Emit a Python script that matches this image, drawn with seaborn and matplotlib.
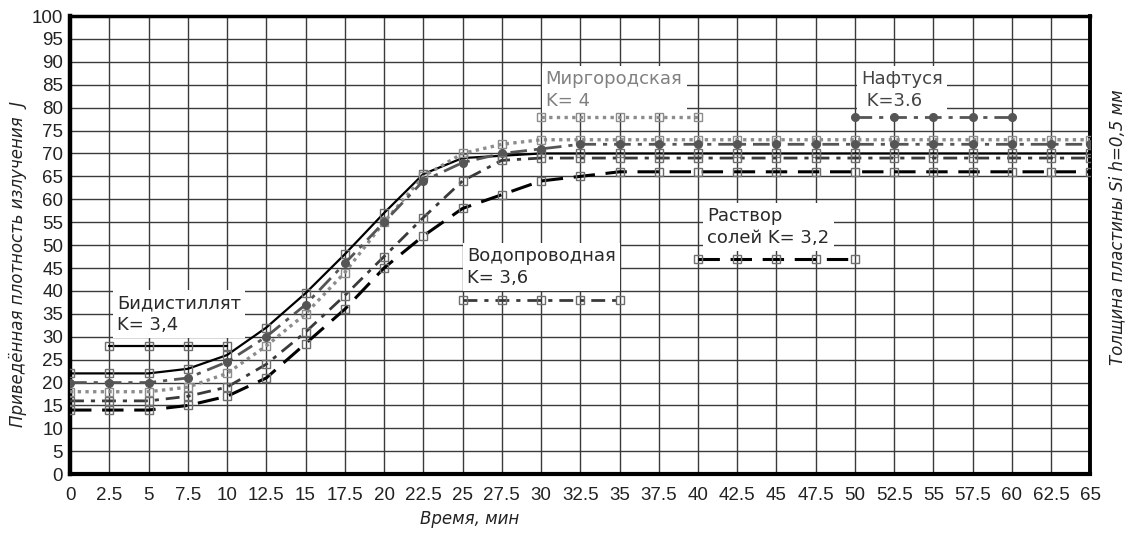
import numpy as np
import pandas as pd
import matplotlib
matplotlib.use("Agg")
import matplotlib.pyplot as plt
import seaborn as sns

# ---- data -------------------------------------------------------------
time_min = [0, 2.5, 5, 7.5, 10, 12.5, 15, 17.5, 20, 22.5, 25, 27.5, 30, 32.5,
            35, 37.5, 40, 42.5, 45, 47.5, 50, 52.5, 55, 57.5, 60, 62.5, 65]

bidistillat = [22, 22, 22, 23, 26, 32, 39.5, 48, 57, 65.5, 69, 69.5, 70, 70,
               70, 70, 70, 70, 70, 70, 70, 70, 70, 70, 70, 70, 70]
mirgorodskaya = [18, 18, 18, 19, 22, 28, 35, 44, 55, 65, 70, 72, 73, 73,
                 73, 73, 73, 73, 73, 73, 73, 73, 73, 73, 73, 73, 73]
naftusya = [20, 20, 20, 21, 24.5, 30, 37, 46, 55, 64, 68, 70, 71, 72,
            72, 72, 72, 72, 72, 72, 72, 72, 72, 72, 72, 72, 72]
vodoprovodnaya = [16, 16, 16, 17, 19, 24, 31, 39, 47.5, 56, 64, 68.5, 69, 69,
                  69, 69, 69, 69, 69, 69, 69, 69, 69, 69, 69, 69, 69]
rastvor = [14, 14, 14, 15, 17, 21, 28.5, 36, 45, 52, 58, 61, 64, 65,
           66, 66, 66, 66, 66, 66, 66, 66, 66, 66, 66, 66, 66]

# legend-like sample segments drawn inside the plot
bid_key_x = [2.5, 5, 7.5, 10];            bid_key_y = [28, 28, 28, 28]
mir_key_x = [30, 32.5, 35, 37.5, 40];     mir_key_y = [78, 78, 78, 78, 78]
naf_key_x = [50, 52.5, 55, 57.5, 60];     naf_key_y = [78, 78, 78, 78, 78]
vod_key_x = [25, 27.5, 30, 32.5, 35];     vod_key_y = [38, 38, 38, 38, 38]
ras_key_x = [40, 42.5, 45, 47.5, 50];     ras_key_y = [47, 47, 47, 47, 47]

labels = {
    "bid": "Бидистиллят\nK= 3,4",
    "mir": "Миргородская\nK= 4",
    "naf": "Нафтуся\n K=3.6",
    "vod": "Водопроводная\nK= 3,6",
    "ras": "Раствор\nсолей K= 3,2",
}

x_ticks = [0, 2.5, 5, 7.5, 10, 12.5, 15, 17.5, 20, 22.5, 25, 27.5, 30, 32.5,
           35, 37.5, 40, 42.5, 45, 47.5, 50, 52.5, 55, 57.5, 60, 62.5, 65]
y_ticks = list(range(0, 101, 5))

xlabel = "Время, мин"
ylabel = "Приведённая плотность излучения  J"
rlabel = "Толщина пластины Si h=0,5 мм"

# ---- style ------------------------------------------------------------
sns.set_style("white")
plt.rcParams["font.family"] = ["Liberation Sans", "DejaVu Sans"]

fig = plt.figure(figsize=(11.3, 5.34), dpi=100)
ax = fig.add_axes([0.062, 0.112, 0.903, 0.858])

styles = {
    "bid": dict(color="black", lw=1.6, linestyle="-", marker="s", ms=5.2,
                mfc="none", mec="#6e6e6e", mew=1.0),
    "mir": dict(color="#8c8c8c", lw=2.4, linestyle=(0, (1.0, 1.3)), marker="s", ms=5.2,
                mfc="none", mec="#8c8c8c", mew=1.0),
    "naf": dict(color="#555555", lw=2.0, linestyle=(0, (6, 2.5, 1.5, 2.5)), marker="o", ms=5.5,
                mfc="#555555", mec="#555555", mew=1),
    "vod": dict(color="#3a3a3a", lw=2.0, linestyle=(0, (5, 2.5, 1.5, 2.5)), marker="s", ms=5.2,
                mfc="none", mec="#6e6e6e", mew=1.0),
    "ras": dict(color="black", lw=2.2, linestyle=(0, (7, 3.5)), marker="s", ms=5.2,
                mfc="none", mec="#6e6e6e", mew=1.0),
}

series = [
    ("bid", time_min, bidistillat, bid_key_x, bid_key_y),
    ("mir", time_min, mirgorodskaya, mir_key_x, mir_key_y),
    ("naf", time_min, naftusya, naf_key_x, naf_key_y),
    ("vod", time_min, vodoprovodnaya, vod_key_x, vod_key_y),
    ("ras", time_min, rastvor, ras_key_x, ras_key_y),
]

for key, xs, ys, kx, ky in series:
    df = pd.DataFrame({"t": xs, "J": ys})
    sns.lineplot(data=df, x="t", y="J", ax=ax, zorder=4, **styles[key])
    dk = pd.DataFrame({"t": kx, "J": ky})
    sns.lineplot(data=dk, x="t", y="J", ax=ax, zorder=4, **styles[key])

# text annotations (white boxes hide the grid behind them)
txt_kw = dict(fontsize=13, family=["DejaVu Sans"], va="center", ha="left",
              linespacing=1.25, zorder=3,
              bbox=dict(facecolor="white", edgecolor="none", pad=3))
ax.text(3.0, 35.0, labels["bid"], color="#2a2a2a", **txt_kw)
ax.text(30.3, 83.8, labels["mir"], color="#808080", **txt_kw)
ax.text(50.4, 83.8, labels["naf"], color="#444444", **txt_kw)
ax.text(25.3, 45.2, labels["vod"], color="#2a2a2a", **txt_kw)
ax.text(40.6, 54.0, labels["ras"], color="#2a2a2a", **txt_kw)

# axes
ax.set_xlim(0, 65)
ax.set_ylim(0, 100)
ax.set_xticks(x_ticks)
ax.set_xticklabels([f"{v:g}" for v in x_ticks])
ax.set_yticks(y_ticks)
ax.set_yticklabels([str(v) for v in y_ticks])
ax.grid(True, color="#3a3a3a", lw=1.0)
ax.set_axisbelow(True)
ax.tick_params(axis="both", direction="inout", length=6, width=2, color="black",
               labelsize=13.5, labelcolor="#222222")
ax.tick_params(axis="x", pad=6)
ax.tick_params(axis="y", pad=2)
ax.set_xlabel("")
ax.set_ylabel("")
for side, w in [("left", 3.2), ("bottom", 3.0), ("top", 2.5), ("right", 2.8)]:
    ax.spines[side].set_visible(True)
    ax.spines[side].set_linewidth(w)
    ax.spines[side].set_color("black")

fig.text(0.416, 0.028, xlabel, ha="center", va="center", fontsize=12,
         style="italic", family=["DejaVu Sans"], color="#222222")
fig.text(0.016, 0.505, ylabel, ha="center", va="center", rotation=90, fontsize=12,
         style="italic", family=["DejaVu Sans"], color="#222222")
fig.text(0.989, 0.575, rlabel, ha="center", va="center", rotation=90, fontsize=12,
         style="italic", family=["DejaVu Sans"], color="#222222")

fig.savefig("out.png", dpi=100)
